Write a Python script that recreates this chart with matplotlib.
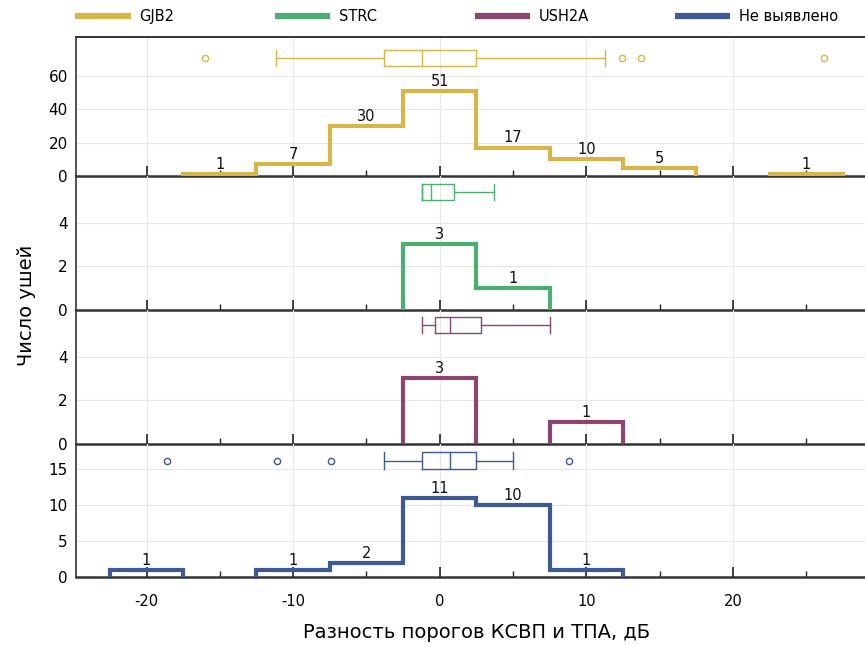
"""Threshold difference histograms with box summaries, per gene group."""

import matplotlib

matplotlib.use("Agg")
import matplotlib.pyplot as plt
from matplotlib.lines import Line2D
from matplotlib.ticker import MultipleLocator

plt.rcParams["font.family"] = ["DejaVu Sans"]
plt.rcParams["axes.unicode_minus"] = False

groups = ["GJB2", "STRC", "USH2A", "Не выявлено"]
colors = ["#d6b54a", "#4cae73", "#8a466e", "#3f5a92"]

# histogram bins, 5 dB wide
bin_edges = [-22.5, -17.5, -12.5, -7.5, -2.5, 2.5, 7.5, 12.5, 17.5, 22.5, 27.5]
gjb2_counts = [0, 1, 7, 30, 51, 17, 10, 5, 0, 1]
strc_counts = [0, 0, 0, 0, 3, 1, 0, 0, 0, 0]
ush2a_counts = [0, 0, 0, 0, 3, 0, 1, 0, 0, 0]
none_counts = [1, 0, 1, 2, 11, 10, 1, 0, 0, 0]

# box summaries
box_whislo = [-11.2, -1.2, -1.2, -3.8]
box_q1 = [-3.8, -1.2, -0.3, -1.2]
box_med = [-1.2, -0.6, 0.7, 0.7]
box_q3 = [2.5, 1.0, 2.8, 2.5]
box_whishi = [11.3, 3.7, 7.5, 5.0]
box_fliers = [[-16.0, 12.4, 13.7, 26.2], [], [], [-18.6, -11.1, -7.4, 8.8]]

y_tops = [83, 6.13, 6.13, 18.5]
y_ticks = [[0, 20, 40, 60], [0, 2, 4], [0, 2, 4], [0, 5, 10, 15]]
box_pos = [70.4, 5.4, 5.45, 16.2]
box_width = [9.6, 0.76, 0.76, 2.3]

all_counts = [gjb2_counts, strc_counts, ush2a_counts, none_counts]

fig = plt.figure(figsize=(8.65, 6.45), dpi=100)
gs = fig.add_gridspec(4, 1, left=0.088, right=1.0, top=0.9426, bottom=0.1054,
                      hspace=0, height_ratios=[139, 134, 134, 133])
axes = [fig.add_subplot(gs[i]) for i in range(4)]
for ax in axes[1:]:
    ax.sharex(axes[0])

for i, ax in enumerate(axes):
    col = colors[i]
    counts = all_counts[i]
    ax.set_facecolor("none")

    # draw each contiguous run of non-empty bins as its own outline
    j = 0
    while j < len(counts):
        if counts[j] == 0:
            j += 1
            continue
        k = j
        while k < len(counts) and counts[k] > 0:
            k += 1
        ax.stairs(counts[j:k], bin_edges[j:k + 1], baseline=0, color=col,
                  linewidth=3.0, zorder=3)
        j = k

    for n, c in enumerate(counts):
        if c > 0:
            xc = (bin_edges[n] + bin_edges[n + 1]) / 2
            ax.annotate(str(c), xy=(xc, c), xytext=(0, 1.5), textcoords="offset points",
                        ha="center", va="bottom", fontsize=10.5, color="#111111", zorder=4)

    stats = [dict(whislo=box_whislo[i], q1=box_q1[i], med=box_med[i], q3=box_q3[i],
                  whishi=box_whishi[i], fliers=box_fliers[i])]
    lp = dict(color=col, linewidth=1.0)
    ax.bxp(stats, positions=[box_pos[i]], widths=[box_width[i]], capwidths=[box_width[i]],
           orientation="horizontal", manage_ticks=False,
           boxprops=lp, whiskerprops=lp, capprops=lp, medianprops=lp,
           flierprops=dict(marker="o", markersize=4.5, markerfacecolor="none",
                           markeredgecolor=col, markeredgewidth=1.0))

    ax.set_xlim(-24.8, 29.0)
    ax.set_ylim(0, y_tops[i])
    ax.set_yticks(y_ticks[i])
    ax.xaxis.set_major_locator(MultipleLocator(10))
    ax.xaxis.set_minor_locator(MultipleLocator(5))
    ax.grid(True, which="major", color="#e6e6e6", linewidth=0.8)
    ax.set_axisbelow(True)

    ax.spines["right"].set_visible(False)
    ax.spines["top"].set_visible(i == 0)
    ax.spines["top"].set_color("#333333")
    ax.spines["top"].set_linewidth(1.4)
    ax.spines["left"].set_color("#333333")
    ax.spines["left"].set_linewidth(1.2)
    ax.spines["bottom"].set_color("#333333")
    ax.spines["bottom"].set_linewidth(1.8)

    ax.tick_params(axis="x", which="major", direction="in", length=7, width=1.2,
                   color="#222222", labelsize=10.5, pad=12, labelbottom=(i == 3))
    ax.tick_params(axis="x", which="minor", direction="in", length=4, width=1.0,
                   color="#222222")
    ax.tick_params(axis="y", length=0, pad=6, labelsize=11)

# one legend entry per group, spaced evenly across the top
legend_x = [0.087, 0.318, 0.549, 0.780]
for name, col, lx in zip(groups, colors, legend_x):
    h = Line2D([], [], color=col, linewidth=4.5, solid_capstyle="butt")
    fig.legend([h], [name], loc="center left", bbox_to_anchor=(lx, 0.974),
               frameon=False, handlelength=3.8, handletextpad=0.6, fontsize=10.5,
               borderpad=0, borderaxespad=0)

fig.text(0.551, 0.019, "Разность порогов КСВП и ТПА, дБ", ha="center", va="center",
         fontsize=14)
fig.text(0.031, 0.527, "Число ушей", ha="center", va="center", rotation=90, fontsize=14)

fig.savefig("out.png", dpi=100)
plt.close(fig)
